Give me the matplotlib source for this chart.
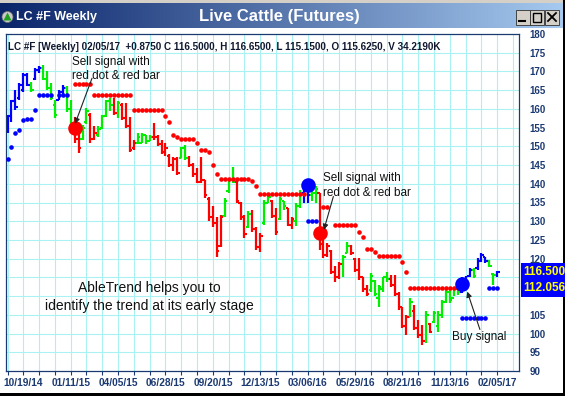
import numpy as np
import pandas as pd
import matplotlib
matplotlib.use("Agg")
import matplotlib.pyplot as plt
from matplotlib.colors import LinearSegmentedColormap
from matplotlib.patches import Rectangle, Polygon, Ellipse
from matplotlib.lines import Line2D
from matplotlib.transforms import blended_transform_factory

plt.rcParams["font.family"] = ["Liberation Sans", "DejaVu Sans"]

# ---- weekly bars, first week 09/21/14, last week 02/05/17 ----
first_week = "2014-09-21"

highs = [
    158.5, 162.4, 165.0, 166.8, 169.5, 169.6, 167.3, 170.8, 171.5, 171.7,
    170.0, 166.8, 162.4, 165.0, 166.4, 166.0, 162.4, 157.9, 155.2, 155.7,
    160.2, 158.8, 155.3, 155.3, 158.5, 162.4, 163.0, 162.8, 162.0, 161.5,
    161.5, 157.9, 151.7, 153.5, 153.5, 153.0, 153.0, 156.2, 153.0, 151.7,
    151.0, 148.0, 147.2, 147.2, 149.9, 150.4, 147.3, 145.5, 144.1, 147.2,
    141.0, 136.6, 134.0, 131.2, 131.7, 136.1, 141.5, 144.6, 141.5, 135.2,
    131.7, 132.6, 133.0, 128.5, 126.8, 135.7, 137.5, 135.7, 133.5, 136.6,
    135.5, 133.5, 131.0, 134.8, 138.3, 140.6, 141.0, 138.0, 139.5, 137.5,
    125.0, 124.1, 122.3, 118.0, 119.2, 121.0, 124.5, 123.7, 120.1, 120.1,
    115.2, 113.0, 116.1, 114.3, 113.0, 115.2, 116.5, 115.6, 115.6, 111.2,
    107.2, 105.0, 109.4, 107.6, 103.6, 102.3, 105.9, 102.7, 105.9, 105.9,
    109.0, 111.6, 112.5, 112.5, 113.5, 115.2, 115.5, 117.4, 117.4, 120.1,
    121.4, 120.5, 119.7, 116.1, 116.65]

lows = [
    153.5, 156.6, 159.7, 162.4, 164.6, 166.0, 164.6, 167.7, 169.7, 167.7,
    165.0, 162.4, 157.5, 162.4, 163.7, 159.3, 153.5, 150.8, 148.1, 151.7,
    156.0, 150.8, 151.7, 152.6, 154.5, 157.9, 159.5, 158.5, 157.5, 157.0,
    154.8, 148.6, 149.0, 150.5, 151.0, 150.6, 151.3, 151.7, 150.0, 148.0,
    147.5, 144.5, 143.5, 142.3, 147.0, 146.4, 144.5, 141.9, 140.1, 140.1,
    136.1, 130.0, 128.5, 120.5, 123.2, 131.2, 137.5, 140.1, 134.8, 130.3,
    125.4, 128.1, 127.2, 122.3, 121.9, 129.0, 134.8, 130.8, 126.3, 130.3,
    133.0, 128.6, 128.0, 128.6, 133.5, 134.8, 134.9, 135.5, 135.0, 122.3,
    120.1, 120.5, 116.0, 113.9, 114.7, 115.2, 121.4, 121.0, 116.5, 114.3,
    111.2, 109.9, 111.2, 109.9, 107.2, 111.2, 113.9, 112.5, 109.9, 106.3,
    101.4, 99.6, 104.5, 101.0, 98.7, 97.0, 97.4, 100.1, 102.7, 100.5,
    104.1, 108.1, 108.1, 109.9, 110.2, 110.8, 112.5, 115.2, 114.8, 117.0,
    119.2, 118.8, 117.9, 113.0, 115.15]

opens = [
    154.0, 158.0, 162.0, 163.0, 165.0, 169.0, 166.5, 168.0, 170.5, 171.0,
    168.0, 165.5, 161.0, 162.5, 164.5, 165.5, 160.0, 154.5, 152.0, 152.0,
    156.5, 158.5, 152.0, 153.0, 155.0, 158.0, 162.0, 161.0, 159.0, 161.0,
    157.5, 155.5, 149.5, 151.0, 151.0, 153.0, 151.5, 152.5, 152.5, 150.5,
    148.5, 147.5, 145.0, 146.5, 147.0, 149.5, 147.0, 145.0, 142.5, 140.5,
    141.0, 136.0, 131.0, 129.5, 123.5, 131.5, 138.0, 141.0, 140.5, 135.0,
    131.0, 128.5, 132.0, 128.0, 123.0, 129.5, 135.0, 135.5, 131.5, 130.5,
    135.5, 133.5, 129.0, 130.0, 134.0, 137.5, 139.5, 137.0, 137.5, 137.5,
    124.0, 121.0, 122.0, 116.5, 115.0, 118.5, 121.5, 123.5, 120.0, 117.0,
    115.0, 112.0, 111.5, 114.0, 109.5, 112.0, 115.0, 114.5, 113.0, 110.5,
    107.0, 102.0, 104.5, 106.0, 101.5, 99.5, 98.0, 102.5, 103.0, 102.0,
    105.0, 108.5, 111.0, 109.5, 112.0, 111.0, 114.5, 115.5, 117.0, 117.5,
    119.5, 120.5, 119.5, 116.0, 115.625]

closes = [
    158.0, 162.0, 160.5, 166.5, 169.0, 166.5, 165.0, 170.5, 171.0, 168.0,
    165.5, 163.0, 158.5, 164.5, 165.5, 160.0, 154.5, 152.0, 149.5, 155.0,
    159.5, 152.0, 153.5, 154.5, 158.0, 162.0, 161.0, 159.0, 161.5, 157.5,
    155.5, 149.0, 151.0, 152.5, 153.0, 151.5, 152.5, 152.5, 150.5, 148.5,
    149.5, 145.0, 146.5, 143.0, 149.5, 147.0, 145.0, 142.5, 140.5, 141.0,
    137.0, 131.0, 129.5, 122.0, 131.0, 135.5, 141.0, 140.5, 135.5, 131.0,
    126.5, 132.0, 128.0, 123.0, 126.0, 135.0, 136.5, 131.5, 127.0, 136.0,
    134.0, 129.0, 130.5, 134.0, 137.5, 139.5, 137.0, 137.5, 138.5, 124.0,
    121.0, 123.5, 116.5, 115.0, 118.5, 120.5, 123.5, 121.5, 117.0, 115.0,
    112.0, 110.5, 115.5, 110.5, 112.5, 115.0, 114.5, 113.0, 110.5, 107.0,
    102.0, 104.5, 108.5, 101.5, 99.5, 98.0, 105.0, 100.5, 105.5, 105.0,
    108.5, 111.0, 109.0, 112.0, 111.0, 114.5, 113.5, 117.0, 115.5, 119.5,
    121.0, 119.5, 118.0, 115.625, 116.5]
volume_k = 34.219

# bar colour: B = up trend, R = down trend, G = counter move
trend = ("BBBBBBGBBGGGGBBGG"
         "RRGGRRGGGGRGRRRRGGGGRRRRRRRGGRRRRRRRRRGGGRRRGRRRGGRRGGRRGG"
         "BBGG"
         "RRRRRRGGRRRRRGGGGGRRRRRGRRRGRGGGGGGG"
         "BBBGBBBGGB")

# trailing stop dots (None = no dot)
stops = [
    146.5, 149.7, 153.6, 154.4, 157.0, 157.2, 157.2, 159.7, 163.6, 163.6,
    163.6, 163.6, None, 163.6, 163.6, 163.6, None, 166.6, 166.6, 166.6,
    166.6, 166.6, 163.6, 163.6, 163.6, 163.6, 163.6, 163.6, 163.6, 163.6,
    163.6, 163.6, 159.7, 159.7, 159.7, 159.7, 159.7, 159.7, 159.7, 159.7,
    158.2, 156.6, 153.0, 152.6, 152.0, 152.0, 152.0, 152.0, 151.0, 149.0,
    149.0, 148.6, 145.0, 142.6, 141.3, 141.3, 141.3, 141.3, 141.3, 141.3,
    141.3, 141.3, 140.8, 139.5, 137.2, 137.2, 137.2, 137.2, 137.2, 137.2,
    137.2, 137.2, 137.2, 137.2, 137.2, 137.2, 130.0, 130.0, 130.0, None,
    133.7, 133.7, None, 129.0, 129.0, 129.0, 129.0, 129.0, 129.0, 127.2,
    125.7, 122.5, 122.5, 121.9, 120.7, 120.7, 120.7, 120.7, 120.7, 120.7,
    119.2, 116.4, 112.1, 112.1, 112.1, 112.1, 112.1, 112.1, 112.1, 112.1,
    112.1, 112.1, 112.1, 112.1, 112.1, 104.2, 104.2, 104.2, 104.2, 104.2,
    104.2, 104.2, 112.056, 112.056, 112.056]
stop_side = "B" * 17 + "R" * 59 + "B" * 3 + "R" * 36 + "B" * 10

# big signal dots
signal_dates = ["01/18/15", "03/06/16", "03/27/16", "12/04/16"]
signal_prices = [154.9, 139.7, 126.8, 113.2]
signal_side = "RBRB"

date_labels = ["10/19/14", "01/11/15", "04/05/15", "06/28/15", "09/20/15",
               "12/13/15", "03/06/16", "05/29/16", "08/21/16", "11/13/16",
               "02/05/17"]
price_ticks = list(range(90, 181, 5))

# ---- setup ----
n = len(highs)
dates = pd.date_range(first_week, periods=n, freq="7D")
x = np.arange(n)
def bar_of(s):
    return dates.get_loc(pd.to_datetime(s, format="%m/%d/%y"))

colors = {"B": "#0000ff", "G": "#00ee00", "R": "#ff0000"}
navy = "#1c3a72"
grid_c = "#aaf2f2"

W, H = 565, 396
fig = plt.figure(figsize=(W / 100, H / 100), dpi=100, facecolor="white")
def fx(px):
    return px / W
def fy(py):
    return 1 - py / H

# title bar
fig.add_artist(Rectangle((0, fy(3)), 1, 3 / H, transform=fig.transFigure,
                         fc="#d4d0c8", ec="none"))
tb = fig.add_axes([0, fy(28), 1, 25 / H])
grad = LinearSegmentedColormap.from_list("tb", ["#0a246a", "#a6caf0"])
tb.imshow(np.linspace(0, 1, 256)[None, :], cmap=grad, aspect="auto",
          extent=[0, 1, 0, 1])
tb.set_axis_off()
fig.add_artist(Ellipse((fx(7.5), fy(17)), 11 / W, 11 / H, transform=fig.transFigure,
                       fc="#c8c8c8", ec="#707070", lw=0.5))
fig.add_artist(Polygon([(fx(3.5), fy(20.5)), (fx(11.5), fy(20.5)), (fx(7.5), fy(12.5))],
                       closed=True, transform=fig.transFigure, fc="#20a020", ec="none"))
fig.text(fx(16), fy(17), "LC #F Weekly", color="white", fontsize=9,
         fontweight="bold", va="center")
fig.text(fx(279), fy(17), "Live Cattle (Futures)", color="white", fontsize=12,
         fontweight="bold", va="center", ha="center")
for x0 in [516, 530, 545]:
    fig.add_artist(Rectangle((fx(x0), fy(25)), 14 / W, 15 / H, transform=fig.transFigure,
                             fc="#d4d0c8", ec="#303030", lw=0.6))
fig.add_artist(Line2D([fx(519), fx(525)], [fy(21), fy(21)], transform=fig.transFigure,
                      color="black", lw=1.5))
fig.add_artist(Rectangle((fx(533), fy(22)), 8 / W, 9 / H, transform=fig.transFigure,
                         fc="none", ec="black", lw=1.0))
fig.add_artist(Line2D([fx(548), fx(556)], [fy(13), fy(21)], transform=fig.transFigure,
                      color="black", lw=1.3))
fig.add_artist(Line2D([fx(548), fx(556)], [fy(21), fy(13)], transform=fig.transFigure,
                      color="black", lw=1.3))

# window frame
fig.add_artist(Rectangle((fx(563), 0), 2 / W, 1, transform=fig.transFigure,
                         fc="black", ec="none"))
fig.add_artist(Rectangle((0, 0), 1, 3 / H, transform=fig.transFigure,
                         fc="black", ec="none"))

# price panel
ax = fig.add_axes([fx(6), fy(371), fx(519) - fx(6), fy(34) - fy(371)])
ax.set_xlim(-0.38, 129.5)
ax.set_ylim(90, 180)
for gx in range(0, 129, 4):
    ax.axvline(gx, color=grid_c, lw=0.8, zorder=0)
for gy in price_ticks[1:-1]:
    ax.axhline(gy, color=grid_c, lw=0.8, zorder=0)

bar_cols = [colors[c] for c in trend]
ax.vlines(x, lows, highs, colors=bar_cols, lw=1.6, zorder=2)
ax.hlines(opens, x - 0.6, x, colors=bar_cols, lw=1.5, zorder=2)
ax.hlines(closes, x, x + 0.6, colors=bar_cols, lw=1.5, zorder=2)

stop_vals = np.array([np.nan if s is None else s for s in stops])
for side in "BR":
    m = np.array([c == side for c in stop_side])
    ax.plot(x[m], stop_vals[m], "o", color=colors[side], ms=3.3, mec="none", zorder=3)

for d, p, side in zip(signal_dates, signal_prices, signal_side):
    ax.plot(bar_of(d), p, "o", color=colors[side], ms=10.5, mec="none", zorder=4)

# axes styling
for sp in ax.spines.values():
    sp.set_color(navy)
    sp.set_linewidth(0.9)
ax.set_xticks(x[::4])
ax.set_xticklabels([d.strftime("%m/%d/%y") if d.strftime("%m/%d/%y") in date_labels else ""
                    for d in dates[::4]])
ax.tick_params(axis="x", direction="out", length=3, width=0.8, color=navy, pad=2,
               labelsize=7.3, labelcolor=navy)
ax.yaxis.tick_right()
ax.set_yticks(price_ticks)
ax.tick_params(axis="y", length=0, pad=7.5, labelsize=7, labelcolor=navy)
for lbl in ax.get_xticklabels() + ax.get_yticklabels():
    lbl.set_fontweight("bold")

# header line
chg = closes[-1] - closes[-2]
header = (f"LC #F [Weekly] {dates[-1]:%m/%d/%y}  {chg:+.4f} C {closes[-1]:.4f}, "
          f"H {highs[-1]:.4f}, L {lows[-1]:.4f}, O {opens[-1]:.4f}, V {volume_k:.4f}K")
fig.text(fx(8), fy(47), header, fontsize=7.1, fontweight="bold", color="#101830",
         va="center")

# annotations
txt_c = "#111111"
arrow = dict(arrowstyle="-|>", color="#222222", lw=0.8, mutation_scale=8,
             shrinkA=0, shrinkB=0)
ax.text(16.3, 172.5, "Sell signal with", fontsize=8.5, color=txt_c, va="center")
ax.text(16.3, 168.8, "red dot & red bar", fontsize=8.5, color=txt_c, va="center")
ax.annotate("", xy=(17.1, 156.0), xytext=(21.4, 168.2), arrowprops=arrow, zorder=5)
ax.text(79.8, 141.5, "Sell signal with", fontsize=8.5, color=txt_c, va="center")
ax.text(79.8, 137.5, "red dot & red bar", fontsize=8.5, color=txt_c, va="center")
ax.annotate("", xy=(80.1, 127.7), xytext=(82.5, 136.6), arrowprops=arrow, zorder=5)
ax.text(112.5, 99.2, "Buy signal", fontsize=8.5, color=txt_c, va="center")
ax.annotate("", xy=(116.4, 111.2), xytext=(119.6, 101.1), arrowprops=arrow, zorder=5)
ax.text(35.8, 112.2, "AbleTrend helps you to", fontsize=10, color=txt_c,
        va="center", ha="center")
ax.text(35.8, 107.4, "identify the trend at its early stage", fontsize=10, color=txt_c,
        va="center", ha="center")

# current value boxes on the price scale (they hide the scale labels behind them)
blend = blended_transform_factory(fig.transFigure, ax.transData)
boxes = [closes[-1], stops[-1]]
for v, lbl in zip(price_ticks, ax.get_yticklabels()):
    if any(abs(v - b) < 3.5 for b in boxes):
        lbl.set_visible(False)
for v in boxes:
    fig.add_artist(Rectangle((fx(520.5), v - 2.35), 1 - fx(520.5), 4.7, transform=blend,
                             fc="#0000ff", ec="none", zorder=5))
    fig.text(fx(523), v, f"{v:.3f}", transform=blend, fontsize=8.5, fontweight="bold",
             color="#ffff00", va="center", zorder=6)

fig.savefig("out.png", dpi=100)
